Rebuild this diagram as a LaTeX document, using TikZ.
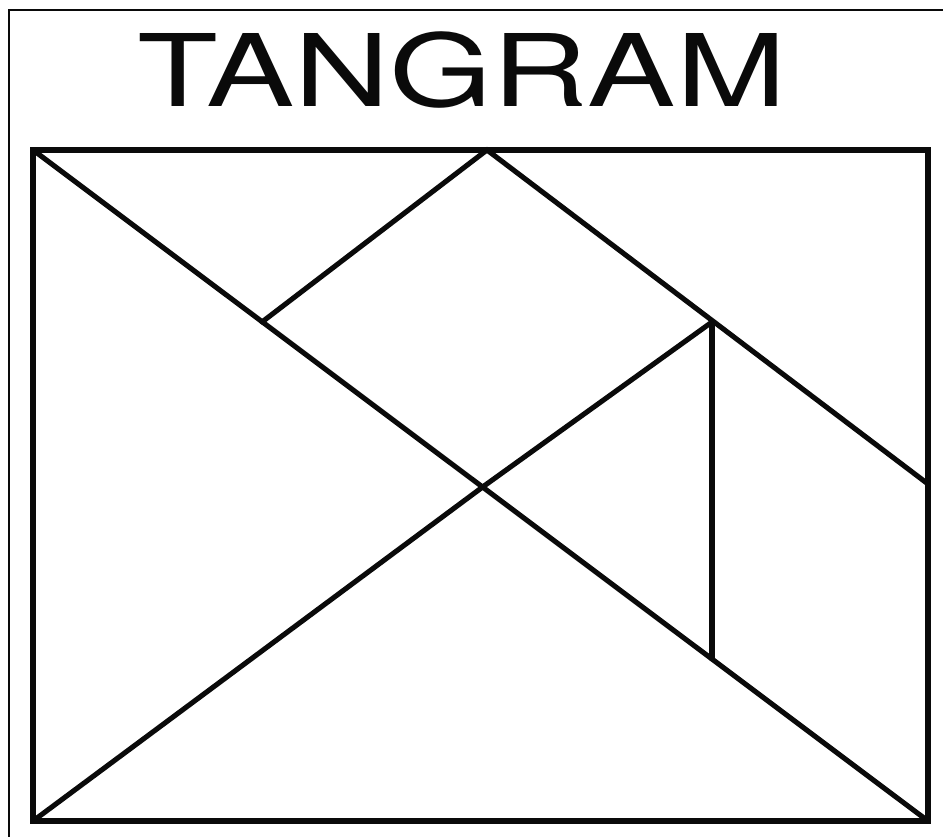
\documentclass[tikz,border=0pt]{standalone}
\usepackage{fontspec}
\setmainfont{TeX Gyre Heros}
\definecolor{ink}{HTML}{0A0A0A}

\begin{document}
\begin{tikzpicture}[
    x=0.02cm, y=-0.02cm, color=ink,
    piece/.style={line width=2.9pt, line cap=round, line join=miter},
    rim/.style={line width=3.3pt, line join=miter},
    title/.style={font=\fontsize{57}{60}\selectfont, text=ink, xscale=1.32}]
  % fixed canvas in pixel units of the reference
  \path[use as bounding box] (0,0) rectangle (943,837);
  \draw[line width=0.8pt] (9,10) rectangle (960,860);

  % ================= title =================
  \node[title, anchor=base] (head) at (462,107) {TANGRAM};

  % ================= corners and cut points =================
  \coordinate (tl) at (33,150);
  \coordinate (tr) at (928,150);
  \coordinate (br) at (928,821);
  \coordinate (bl) at (33,821);
  \coordinate (tm) at (487,150);
  \coordinate (rm) at (928,484);
  \coordinate (ctr) at (484,486);
  \coordinate (sq) at (262,322);
  \coordinate (ki) at (712,322);
  \coordinate (kd) at (712,659);

  % ================= pieces =================
  \draw[rim] (tl) -- (tr) -- (br) -- (bl) -- cycle;
  \draw[piece] (tl) -- (br);
  \draw[piece] (bl) -- (ctr) -- (ki);
  \draw[piece] (sq) -- (tm) -- (rm);
  \draw[piece] (ki) -- (kd);
\end{tikzpicture}
\end{document}
